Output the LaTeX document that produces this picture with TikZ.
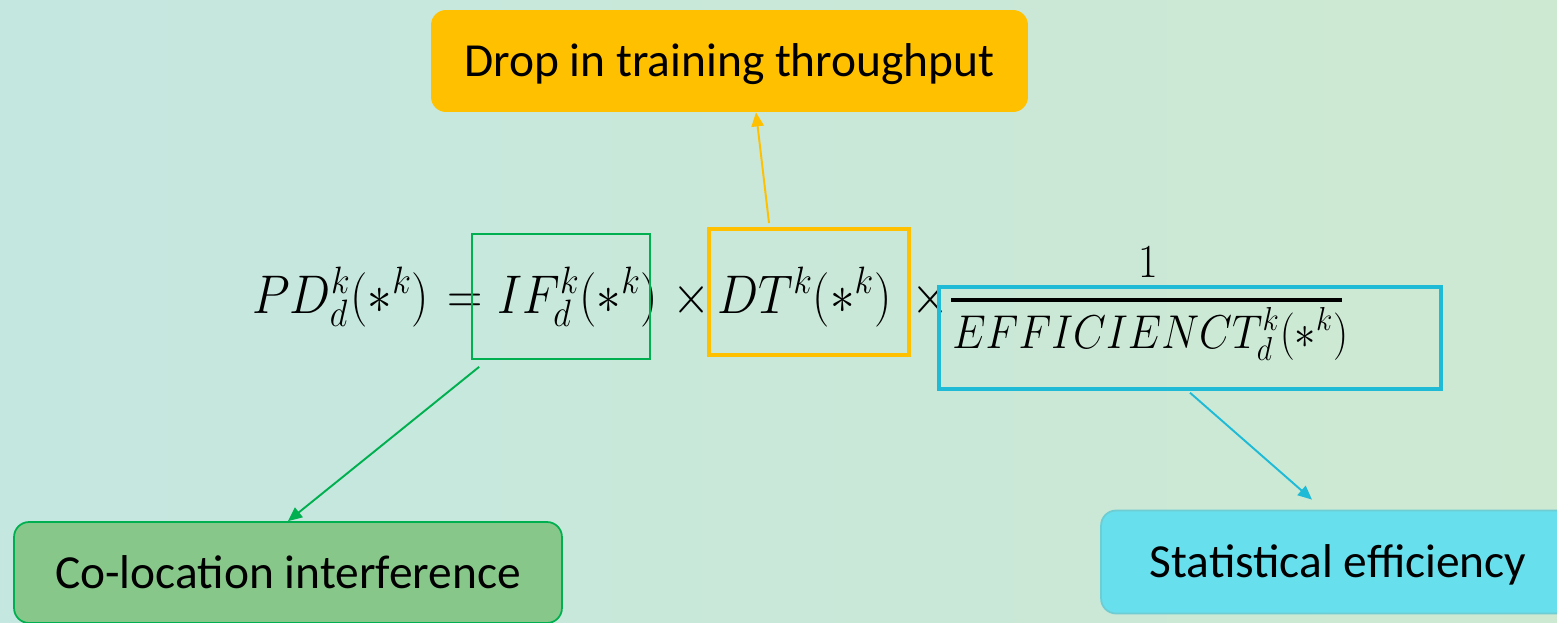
\RequirePackage{fix-cm}
\documentclass[tikz,border=0pt]{standalone}
\usepackage{amsmath}
\usepackage[no-math]{fontspec}
\setmainfont{Carlito}
\usepackage{tikz}
\usetikzlibrary{arrows.meta}
\definecolor{bgleft}{RGB}{196,231,224}
\definecolor{bgright}{RGB}{206,233,210}
\definecolor{dropyellow}{RGB}{255,192,0}
\definecolor{cogreen}{RGB}{0,176,80}
\definecolor{cofill}{RGB}{136,199,138}
\definecolor{effcyan}{RGB}{31,186,214}
\definecolor{statfill}{RGB}{103,223,236}
\definecolor{statedge}{RGB}{110,205,210}

\tikzset{
    labelbox/.style={rounded corners=0.3cm, font=\fontsize{27}{32}\selectfont, text=black, inner sep=0pt,
        text height=18pt, text depth=0pt},
    termbox/.style={draw, inner sep=0pt},
    eqpart/.style={anchor=base west, inner sep=0pt, xscale=0.9, transform shape, font=\fontsize{31}{38}\selectfont},
    fracpart/.style={inner sep=0pt, xscale=0.9, transform shape, font=\fontsize{27}{32}\selectfont},
    pointer/.style={-{Triangle[length=8pt,width=7pt]}, line width=1.1pt}
}

\begin{document}
\begin{tikzpicture}[x=0.02cm, y=-0.02cm]
    \useasboundingbox (0,0) rectangle (1557,622);
    \clip (0,0) rectangle (1557,622);
    \shade[left color=bgleft, right color=bgright] (0,0) rectangle (1557,622);

    % etichette
    \node[labelbox, fill=dropyellow, minimum width=11.94cm, minimum height=2.04cm]
        (drop) at (729.5,61) {Drop in training throughput};
    \node[labelbox, fill=cofill, draw=cogreen, line width=1pt, minimum width=10.96cm, minimum height=2.02cm]
        (coloc) at (288,572.5) {Co-location interference};
    \node[labelbox, fill=statfill, draw=statedge, line width=1pt, minimum width=9.48cm, minimum height=2.06cm]
        (stat) at (1338,562) {Statistical efficiency};

    % formula
    \node[eqpart] (pd) at (252,313) {$PD_d^k(*^k)$};
    \node[eqpart] (eqs) at (447,313) {$=$};
    \node[eqpart] (ifk) at (497,313) {$IF_d^k(*^k)$};
    \node[eqpart] (tma) at (672,313) {$\times$};
    \node[eqpart] (dtk) at (717,313) {$DT^k(*^k)$};
    \node[eqpart] (tmb) at (911,313) {$\times$};

    % frazione
    \node[fracpart, anchor=base] (num) at (1148,277) {$1$};
    \draw[line width=2pt] (951,300) -- (1342,300);
    \node[fracpart, anchor=base west] (den) at (952,348) {$EFFICIENCT_d^k(*^k)$};

    % riquadri sui termini
    \node[termbox, draw=cogreen, line width=1pt, minimum width=3.56cm, minimum height=2.5cm]
        (ifbox) at (561,296.5) {};
    \node[termbox, draw=dropyellow, line width=2.2pt, minimum width=4cm, minimum height=2.52cm]
        (dtbox) at (809,292) {};
    \node[termbox, draw=effcyan, line width=2pt, minimum width=10.04cm, minimum height=2.04cm]
        (effbox) at (1190,338) {};

    % frecce
    \draw[pointer, dropyellow] ([xshift=-0.8cm,yshift=0.08cm]dtbox.north) -- ([xshift=0.53cm]drop.south);
    \draw[pointer, cogreen] ([xshift=0.16cm,yshift=-0.14cm]ifbox.south west) -- (coloc.north);
    \draw[pointer, effcyan] ([yshift=-0.04cm]effbox.south) -- ([xshift=-0.52cm,yshift=0.2cm]stat.north);
\end{tikzpicture}
\end{document}
